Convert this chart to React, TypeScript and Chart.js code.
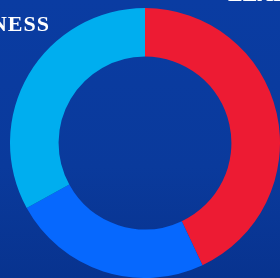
import React, { useEffect, useRef } from "react";
import { Chart, registerables } from "chart.js";

Chart.register(...registerables);

const categories = ["Red", "Blue", "Light blue"];
const values = [43, 24, 33];
const colors = ["#ED1B33", "#0668FE", "#00AEEF"];

export default function App() {
  const ref = useRef<HTMLCanvasElement | null>(null);
  useEffect(() => {
    if (!ref.current) return;
    const chart = new Chart(ref.current, {
      type: "doughnut",
      data: {
        labels: categories,
        datasets: [
          {
            data: values,
            backgroundColor: colors,
            borderWidth: 0,
          },
        ],
      },
      options: {
        animation: false,
        responsive: false,
        cutout: "64%",
        layout: { padding: { left: 10, right: 0, top: 8, bottom: 0 } },
        plugins: { legend: { display: false }, tooltip: { enabled: false } },
      },
    });
    return () => chart.destroy();
  }, []);
  return (
    <div
      style={{
        position: "fixed",
        left: 0,
        top: 0,
        width: 280,
        height: 278,
        overflow: "hidden",
        background: "linear-gradient(180deg, #0a3ca2 0%, #0a3a9c 60%, #08338f 100%)",
      }}
    >
      <canvas ref={ref} width={280} height={278} style={{ position: "absolute", left: 0, top: 0 }} />
      <div
        style={{
          position: "absolute",
          right: 230,
          top: 11,
          color: "#ffffff",
          fontFamily: "'Liberation Serif', serif",
          fontWeight: "bold",
          fontSize: 22,
          letterSpacing: "1px",
          lineHeight: "26px",
          whiteSpace: "nowrap",
        }}
      >
        BUSINESS
      </div>
      <div
        style={{
          position: "absolute",
          left: 228,
          top: -19.5,
          color: "#ffffff",
          fontFamily: "'Liberation Serif', serif",
          fontWeight: "bold",
          fontSize: 22,
          lineHeight: "26px",
          whiteSpace: "nowrap",
        }}
      >
        LEAD
      </div>
    </div>
  );
}
